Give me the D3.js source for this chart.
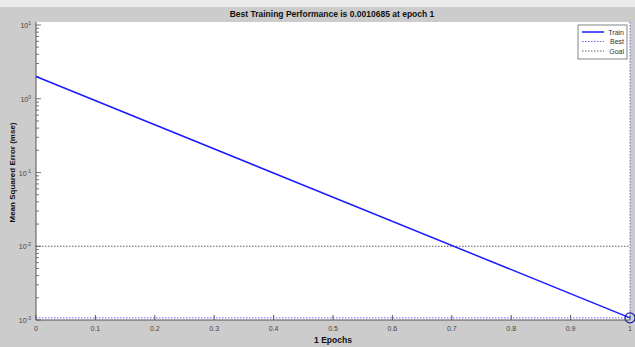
<!DOCTYPE html>
<html lang="en">
<head>
<meta charset="UTF-8">
<title>Best Training Performance</title>
<script src="https://d3js.org/d3.v7.min.js"></script>
<style>
    body { margin: 0; background: #cccccc; }
    svg { display: block; font-family: "Liberation Sans", Arial, sans-serif; }
    .tick text { fill: #444; }
</style>
</head>
<body>
<div id="chart"></div>
<script>
// values
const trainEpochs = [0, 1];
const trainPerf = [2.0, 0.0010685];
const bestEpoch = 1;
const bestPerf = 0.0010685;
const goalPerf = 0.01;
const xTicks = [0, 0.1, 0.2, 0.3, 0.4, 0.5, 0.6, 0.7, 0.8, 0.9, 1];
const yTicks = [1e-3, 1e-2, 1e-1, 1e0, 1e1];
const yExps = [-3, -2, -1, 0, 1];
const legendNames = ["Train", "Best", "Goal"];

const W = 635, H = 347;
const margin = { top: 25, right: 5, bottom: 27, left: 36 };

const svg = d3.select("#chart").append("svg")
    .attr("width", W)
    .attr("height", H);

// background bands
svg.append("rect").attr("width", W).attr("height", H).attr("fill", "#cccccc");
svg.append("rect").attr("width", W).attr("height", 7).attr("fill", "#ebebeb");

const x = d3.scaleLinear().domain([0, 1]).range([margin.left, W - margin.right]);
const y = d3.scaleLog().domain([1e-3, 1e1]).range([H - margin.bottom, margin.top]);

// white axes area
svg.append("rect")
    .attr("x", x(0)).attr("y", 22)
    .attr("width", x(1) - x(0)).attr("height", y(1e-3) - 22)
    .attr("fill", "#fff");

// x ticks (inward)
const xg = svg.append("g");
xTicks.forEach(t => {
    xg.append("line")
        .attr("x1", x(t)).attr("x2", x(t))
        .attr("y1", y(1e-3)).attr("y2", y(1e-3) - 5)
        .attr("stroke", "#555").attr("stroke-width", 1);
    xg.append("text")
        .attr("x", x(t)).attr("y", y(1e-3) + 11)
        .attr("text-anchor", "middle")
        .attr("font-size", 7).attr("fill", "#444")
        .text(String(t));
});

// y ticks: major and minor (inward)
const yg = svg.append("g");
for (let e = -3; e < 1; e++) {
    for (let m = 1; m < 10; m++) {
        const v = m * Math.pow(10, e);
        yg.append("line")
            .attr("x1", x(0)).attr("x2", x(0) + (m === 1 ? 5 : 3))
            .attr("y1", y(v)).attr("y2", y(v))
            .attr("stroke", "#555").attr("stroke-width", 0.8);
    }
}
yg.append("line")
    .attr("x1", x(0)).attr("x2", x(0) + 5)
    .attr("y1", y(10)).attr("y2", y(10))
    .attr("stroke", "#555").attr("stroke-width", 0.8);

yTicks.forEach((t, i) => {
    const lab = yg.append("text")
        .attr("x", x(0) - 5).attr("y", y(t) + 3)
        .attr("text-anchor", "end")
        .attr("font-size", 7).attr("fill", "#444");
    lab.append("tspan").text("10");
    lab.append("tspan").attr("dy", -3).attr("font-size", 5).text(yExps[i]);
});

// axis lines
svg.append("line")
    .attr("x1", x(0)).attr("x2", x(0))
    .attr("y1", 22).attr("y2", y(1e-3))
    .attr("stroke", "#555");
svg.append("line")
    .attr("x1", x(0)).attr("x2", x(1))
    .attr("y1", y(1e-3)).attr("y2", y(1e-3))
    .attr("stroke", "#555");

// goal line
svg.append("line")
    .attr("x1", x(0)).attr("x2", x(1))
    .attr("y1", y(goalPerf)).attr("y2", y(goalPerf))
    .attr("stroke", "#333").attr("stroke-width", 0.8)
    .attr("stroke-dasharray", "1.5,1.5");

// best lines
svg.append("line")
    .attr("x1", x(0)).attr("x2", x(1))
    .attr("y1", y(bestPerf)).attr("y2", y(bestPerf))
    .attr("stroke", "#6666ff").attr("stroke-width", 1)
    .attr("stroke-dasharray", "1.5,1.5");
svg.append("line")
    .attr("x1", x(bestEpoch)).attr("x2", x(bestEpoch))
    .attr("y1", 22).attr("y2", y(1e-3))
    .attr("stroke", "#6666ff").attr("stroke-width", 1)
    .attr("stroke-dasharray", "1.5,1.5");

// train line
const line = d3.line()
    .x((d, i) => x(trainEpochs[i]))
    .y(d => y(d));
svg.append("path")
    .datum(trainPerf)
    .attr("d", line)
    .attr("fill", "none")
    .attr("stroke", "#1a1aff")
    .attr("stroke-width", 1.5);

// best marker
svg.append("circle")
    .attr("cx", x(bestEpoch)).attr("cy", y(bestPerf))
    .attr("r", 5)
    .attr("fill", "none")
    .attr("stroke", "#1a1a99")
    .attr("stroke-width", 1.2);

// legend
const lg = svg.append("g").attr("transform", "translate(578,25)");
lg.append("rect")
    .attr("width", 49).attr("height", 34)
    .attr("fill", "#fff").attr("stroke", "#666").attr("stroke-width", 0.8);
const legendStyle = [
    { stroke: "#1a1aff", dash: null, w: 1.5 },
    { stroke: "#6666ff", dash: "1.5,1.5", w: 1 },
    { stroke: "#333", dash: "1.5,1.5", w: 0.8 }
];
legendNames.forEach((name, i) => {
    const yy = 7 + i * 9.5;
    lg.append("line")
        .attr("x1", 4).attr("x2", 26)
        .attr("y1", yy).attr("y2", yy)
        .attr("stroke", legendStyle[i].stroke)
        .attr("stroke-width", legendStyle[i].w)
        .attr("stroke-dasharray", legendStyle[i].dash);
    lg.append("text")
        .attr("x", 46).attr("y", yy + 2.5)
        .attr("text-anchor", "end")
        .attr("font-size", 7).attr("fill", "#333")
        .text(name);
});

// title and axis labels
svg.append("text")
    .attr("x", 332).attr("y", 17)
    .attr("text-anchor", "middle")
    .attr("font-size", 8.5).attr("font-weight", "bold").attr("fill", "#111")
    .text("Best Training Performance is 0.0010685 at epoch 1");
svg.append("text")
    .attr("x", x(0.5)).attr("y", 343)
    .attr("text-anchor", "middle")
    .attr("font-size", 8.5).attr("font-weight", "bold").attr("fill", "#111")
    .text("1 Epochs");
svg.append("text")
    .attr("transform", `translate(15,${(y(1e-3) + y(10)) / 2}) rotate(-90)`)
    .attr("text-anchor", "middle")
    .attr("font-size", 8).attr("font-weight", "bold").attr("fill", "#111")
    .text("Mean Squared Error  (mse)");
</script>
</body>
</html>
